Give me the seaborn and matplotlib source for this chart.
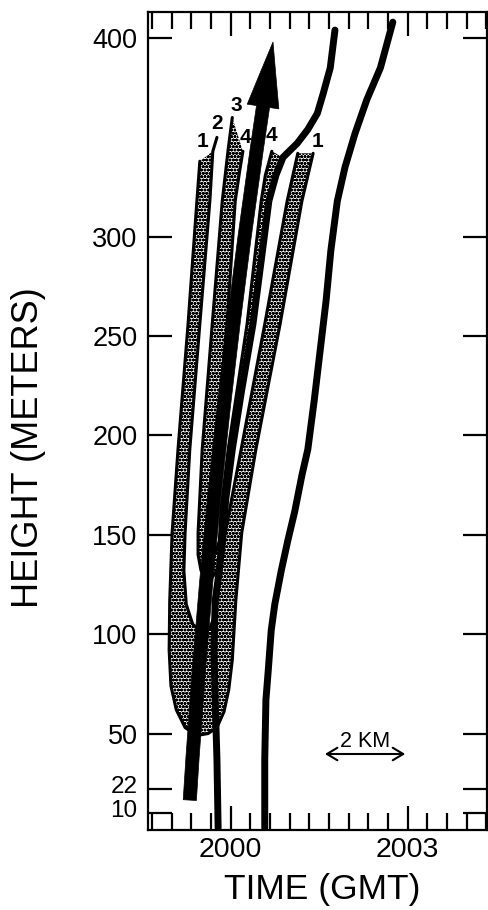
import numpy as np
import matplotlib
matplotlib.use("Agg")
import matplotlib.pyplot as plt
from matplotlib.ticker import MultipleLocator, NullLocator
from matplotlib.transforms import ScaledTranslation
import seaborn as sns

# time = minutes after 2000 GMT, height = meters

# band between curves 1 (outer U) and 2 (inner U)
curve1_t = [-0.52, -0.57, -0.72, -0.89, -0.99, -1.03, -1.04, -1.01, -0.92, -0.77, -0.57, -0.38,
            -0.23, -0.11, -0.03, 0.03, 0.06, 0.09, 0.19, 0.43, 0.84, 1.21, 1.40]
curve1_h = [338, 318, 256, 193, 151, 117, 92, 74, 62, 53, 49, 50,
            53, 61, 72, 87, 102, 117, 151, 193, 256, 318, 342]
curve2_t = [-0.23, -0.30, -0.35, -0.52, -0.69, -0.77, -0.79, -0.75, -0.64, -0.48, -0.35, -0.26,
            -0.19, -0.09, 0.18, 0.58, 0.96, 1.14]
curve2_h = [350, 343, 318, 256, 193, 151, 132, 115, 105, 101, 103, 110,
            125, 151, 193, 256, 318, 342]

# band between curves 3 (outer) and 4 (inner)
curve3_t = [0.03, -0.04, -0.14, -0.31, -0.48, -0.55, -0.55, -0.50, -0.40, -0.30, -0.23, -0.19]
curve3_h = [360, 344, 318, 256, 193, 151, 140, 132, 128, 129, 132, 140]
curve4_t = [0.70, 0.59, 0.52, 0.28, -0.04, -0.16, -0.19, -0.25, -0.30, -0.31, -0.26, -0.06,
            0.08, 0.16, 0.21]
curve4_h = [343, 331, 318, 256, 193, 163, 147, 141, 143, 151, 193, 256,
            318, 334, 343]

# solid lines
line_a_t = [-0.21, -0.23, -0.26, -0.28, -0.26, -0.19, -0.14, -0.08, 0.03, 0.19, 0.38, 0.52,
            0.65, 0.77, 0.89, 1.13, 1.31, 1.47, 1.57, 1.69, 1.77]
line_a_h = [2.5, 37, 67, 92, 117, 132, 147, 168, 193, 223, 256, 288,
            318, 331, 340, 347, 354, 362, 372, 385, 404]
line_b_t = [0.58, 0.58, 0.60, 0.64, 0.69, 0.75, 0.86, 0.97, 1.09, 1.21, 1.31, 1.42,
            1.52, 1.62, 1.70, 1.81, 1.94, 2.11, 2.31, 2.54, 2.75]
line_b_h = [2.5, 37, 67, 82, 102, 115, 132, 147, 162, 180, 193, 218,
            243, 268, 293, 318, 335, 352, 369, 385, 408]

# big arrow (tail, tip)
arrow_t = [-0.69, 0.72]
arrow_h = [16.5, 398]

# curve labels
label_text = ["1", "2", "3", "4", "4", "1"]
label_t = [-0.48, -0.23, 0.09, 0.25, 0.70, 1.48]
label_h = [348, 357, 366, 350, 351, 348]

# 2 km scale bar
scale_t = [1.60, 2.96]
scale_h = [39.7, 39.7]
scale_text = "2 KM"
scale_text_pos = (2.28, 46)

XTICKS = [0, 3]
XTICK_LABELS = ["2000", "2003"]
YTICKS = [10, 22, 50, 100, 150, 200, 250, 300, 400]

sns.set_theme(style="ticks", rc={"axes.edgecolor": "black", "xtick.color": "black",
                                 "ytick.color": "black", "text.color": "black",
                                 "axes.labelcolor": "black"})
plt.rcParams["font.family"] = ["Liberation Sans", "DejaVu Sans"]
plt.rcParams["hatch.color"] = "black"
plt.rcParams["hatch.linewidth"] = 1.0

fig = plt.figure(figsize=(4.89, 9.10), dpi=100)
ax = fig.add_axes([0.3027, 0.0879, 0.6933, 0.8989])

# stippled bands
c2t, c2h = np.asarray(curve2_t)[::-1], np.asarray(curve2_h)[::-1]
keep = c2h <= 343
band_a_t = np.r_[curve1_t, c2t[keep]]
band_a_h = np.r_[curve1_h, c2h[keep]]

lat, lah = np.asarray(line_a_t), np.asarray(line_a_h)
seg = (lah > 140) & (lah <= 341)
band_b_t = np.r_[curve3_t, lat[seg], curve4_t]
band_b_h = np.r_[curve3_h, lah[seg], curve4_h]

for bt, bh in [(band_a_t, band_a_h), (band_b_t, band_b_h)]:
    ax.fill(bt, bh, facecolor="white", edgecolor="black", hatch="ooooo",
            linewidth=0, zorder=1)

# band outlines
for t, h in [(curve1_t, curve1_h), (curve2_t, curve2_h),
             (curve3_t, curve3_h), (curve4_t, curve4_h)]:
    sns.lineplot(x=t, y=h, sort=False, estimator=None, color="black",
                 linewidth=2.2, ax=ax, zorder=2, legend=False)

# thick solid lines
for t, h in [(line_a_t, line_a_h), (line_b_t, line_b_h)]:
    sns.lineplot(x=t, y=h, sort=False, estimator=None, color="black",
                 linewidth=5, ax=ax, zorder=3, legend=False,
                 solid_capstyle="round")

# big arrow
ax.annotate("", xy=(arrow_t[1], arrow_h[1]), xytext=(arrow_t[0], arrow_h[0]),
            arrowprops=dict(arrowstyle="simple,head_length=4.7,head_width=2.3,tail_width=0.95",
                            mutation_scale=10, connectionstyle="arc3,rad=-0.024",
                            fc="black", ec="black", lw=0.5, shrinkA=0, shrinkB=0),
            zorder=5)

for s, t, h in zip(label_text, label_t, label_h):
    ax.text(t, h, s, ha="center", va="center", fontsize=15, fontweight="bold", zorder=6)

# scale bar
ax.annotate("", xy=(scale_t[1], scale_h[1]), xytext=(scale_t[0], scale_h[0]),
            arrowprops=dict(arrowstyle="<->,head_length=0.5,head_width=0.3",
                            mutation_scale=15, lw=1.5, color="black",
                            shrinkA=0, shrinkB=0))
ax.text(*scale_text_pos, scale_text, ha="center", va="center", fontsize=15.5)

ax.set_xlim(-1.398, 4.347)
ax.set_ylim(1.45, 413.1)
ax.set_xticks(XTICKS, labels=XTICK_LABELS)
ax.xaxis.set_minor_locator(MultipleLocator(1 / 3))
ax.set_yticks(YTICKS, labels=[str(v) for v in YTICKS])
ax.yaxis.set_minor_locator(NullLocator())
ax.tick_params(which="both", direction="in", top=True, right=True, width=1.6,
               color="black", labelcolor="black")
ax.tick_params(axis="x", which="major", labelsize=20.5, pad=5)
ax.tick_params(axis="y", which="major", labelsize=19.5, pad=7.5)
ax.tick_params(which="major", length=17.5)
ax.tick_params(axis="x", which="minor", length=12.5)

# the two lowest height labels sit stacked close together
yt = ax.yaxis.get_major_ticks()
for tick, dy in [(yt[0], -4), (yt[1], -4)]:
    tick.label1.set_fontsize(17.5)
    tick.label1.set_va("baseline")
    tick.label1.set_transform(tick.label1.get_transform()
                              + ScaledTranslation(0, dy / 100, fig.dpi_scale_trans))
for sp in ax.spines.values():
    sp.set_linewidth(1.6)
    sp.set_color("black")

ax.set_xlabel("TIME (GMT)", fontsize=25.5)
ax.xaxis.set_label_coords(0.515, -0.052)
ax.set_ylabel("HEIGHT (METERS)", fontsize=26, va="center")
ax.yaxis.set_label_coords(-0.354, 0.468)

fig.savefig("out.png", dpi=100)
